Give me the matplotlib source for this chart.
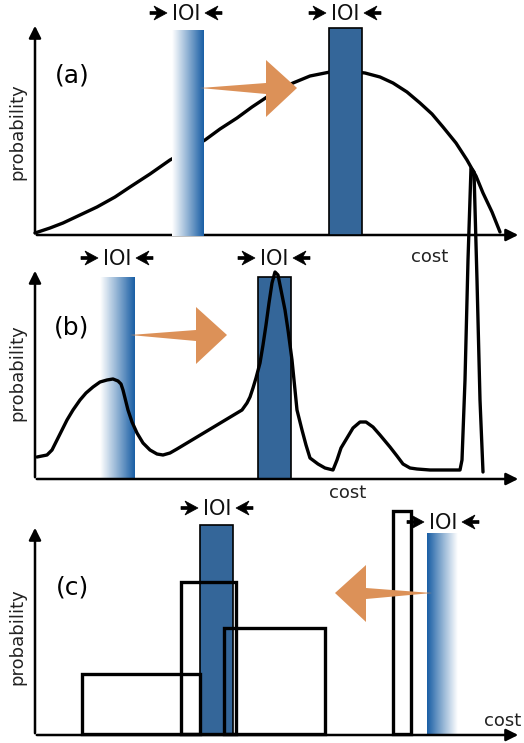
import matplotlib
matplotlib.use("Agg")
import matplotlib.pyplot as plt
import numpy as np
from matplotlib.colors import LinearSegmentedColormap
from matplotlib.patches import Rectangle, Polygon

# panel (a) curve, pixel coords
curve_a_x = [35, 50, 63, 80, 97, 115, 130, 150, 170, 188, 205, 220, 237, 252, 267, 280,
             293, 310, 330, 348, 365, 380, 393, 407, 420, 432, 443, 456, 467, 476, 483,
             492, 500]
curve_a_y = [233, 228, 223, 215, 207, 197, 187, 174, 160, 150, 140, 129, 118, 107, 97, 89,
             83, 76, 72, 71, 73, 77, 83, 92, 103, 114, 127, 143, 160, 176, 193, 212, 232]

# panel (b) curve
curve_b_x = [37, 47, 52, 57, 62, 67, 73, 80, 86, 93, 100, 107, 113, 118, 121, 123, 125,
             128, 132, 137, 143, 150, 157, 163, 170, 177, 187, 197, 207, 217, 227, 237,
             242, 247, 250, 253, 256, 260, 263, 266, 269, 272, 275, 278, 281, 285, 288,
             292, 295, 297, 300, 302, 306, 310, 318, 325, 333, 337, 341, 347, 353, 360,
             366, 373, 380, 390, 397, 403, 410, 417, 430, 445, 460, 462, 465, 468, 471,
             474, 477, 480, 483]
curve_b_y = [457, 455, 450, 440, 430, 420, 410, 400, 393, 387, 382, 380, 379, 381, 384,
             390, 398, 410, 422, 433, 443, 450, 454, 455, 453, 449, 443, 437, 431, 425,
             419, 413, 410, 403, 397, 388, 378, 363, 345, 325, 303, 283, 272, 275, 290,
             310, 330, 360, 390, 410, 422, 430, 445, 458, 464, 468, 470, 460, 448, 438,
             428, 422, 422, 427, 435, 447, 456, 464, 468, 469, 470, 470, 470, 460, 380,
             260, 168, 172, 280, 400, 472]

# panel (c) histogram boxes: left, right, top
hist_left = [82, 181, 224, 393]
hist_right = [200, 236, 325, 411]
hist_top = [674, 582, 628, 511]

# panel layout
panel_base = [235, 479, 735]
panel_top = [23, 268, 525]
panel_names = ["(a)", "(b)", "(c)"]
name_y = [75, 327, 587]
prob_y = [132, 373, 637]
cost_xy = [(430, 257), (348, 493), (503, 721)]

# IOI windows: (x0, x1, top, kind, label x, label y)
windows = [
    (172, 204, 30, "grad_r", 186, 13),
    (329, 362, 28, "solid", 345, 13),
    (100, 135, 277, "grad_r", 117, 258),
    (258, 291, 277, "solid", 274, 258),
    (200, 233, 525, "solid", 217, 508),
    (427, 458, 533, "grad_l", 443, 522),
]

# orange move arrows: tail x, tip x, y
moves = [(200, 297, 88), (130, 227, 335), (432, 335, 593)]

blue = "#346699"
orange = "#dc9158"
grad = LinearSegmentedColormap.from_list("g", ["#ffffff", "#8fb1d3", "#1a5fa5"])

fig = plt.figure(figsize=(5.24, 7.43), dpi=100)
ax = fig.add_axes([0, 0, 1, 1])

fs = 13


def head(x_tip, y, d):
    # small stealth arrow head with a short stub tail, d = +1 right, -1 left
    pts = [(x_tip, y), (x_tip - d * 13, y - 7), (x_tip - d * 10, y - 1.5),
           (x_tip - d * 17, y - 1.5), (x_tip - d * 17, y + 1.5),
           (x_tip - d * 10, y + 1.5), (x_tip - d * 13, y + 7)]
    ax.add_patch(Polygon(pts, closed=True, facecolor="black", edgecolor="black",
                         lw=0.5, zorder=9))


# axes with arrow heads
for i in range(3):
    b = panel_base[i]
    ax.annotate("", xy=(35, panel_top[i]), xytext=(35, b + 1),
                arrowprops=dict(arrowstyle="-|>", color="black", lw=1.8, mutation_scale=18))
    ax.annotate("", xy=(521, b), xytext=(34, b),
                arrowprops=dict(arrowstyle="-|>", color="black", lw=1.8, mutation_scale=18))
    ax.text(72, name_y[i], panel_names[i], fontsize=18, ha="center", va="center")
    ax.text(17, prob_y[i], "probability", fontsize=fs, rotation=90, ha="center", va="center",
            color="#222222")
    ax.text(cost_xy[i][0], cost_xy[i][1], "cost", fontsize=fs, ha="center", va="center",
            color="#222222")

# curves
ax.plot(curve_a_x, curve_a_y, color="black", lw=2.4, zorder=3,
        solid_capstyle="round", solid_joinstyle="round")
ax.plot(curve_b_x, curve_b_y, color="black", lw=2.4, zorder=6,
        solid_capstyle="round", solid_joinstyle="round")

# histogram boxes
for l, r, t in zip(hist_left, hist_right, hist_top):
    ax.add_patch(Rectangle((l, t), r - l, panel_base[2] - 1 - t, fill=False,
                           edgecolor="black", lw=2.4, zorder=7))

# windows
g = np.linspace(0, 1, 64).reshape(1, -1)
for k, (x0, x1, top, kind, lx, ly) in enumerate(windows):
    base = panel_base[0] if k < 2 else (panel_base[1] if k < 4 else panel_base[2])
    zb = 4 if k < 2 else 2
    if kind == "solid":
        ax.add_patch(Rectangle((x0, top), x1 - x0, base - top, facecolor=blue,
                               edgecolor="black", lw=1.2, zorder=zb))
    else:
        img = g if kind == "grad_r" else g[:, ::-1]
        ax.imshow(img, cmap=grad, extent=(x0, x1, base + 1, top), aspect="auto",
                  zorder=5 if k < 2 else 2, interpolation="bilinear")
    ax.text(lx, ly + 1, "IOI", fontsize=15, ha="center", va="center", zorder=9,
            color="#111111")
    head(lx - 19, ly, 1)
    head(lx + 19, ly, -1)

ax.set_xlim(0, 524)
ax.set_ylim(743, 0)
ax.axis("off")

# orange arrows
for tx, hx, y in moves:
    d = 1 if hx > tx else -1
    hb = hx - d * 31
    pts = [(tx, y), (hb, y - 5), (hb, y - 28), (hx, y), (hb, y + 29), (hb, y + 6)]
    ax.add_patch(Polygon(pts, closed=True, facecolor=orange, edgecolor="none", zorder=8))

fig.savefig("out.png", dpi=100)
